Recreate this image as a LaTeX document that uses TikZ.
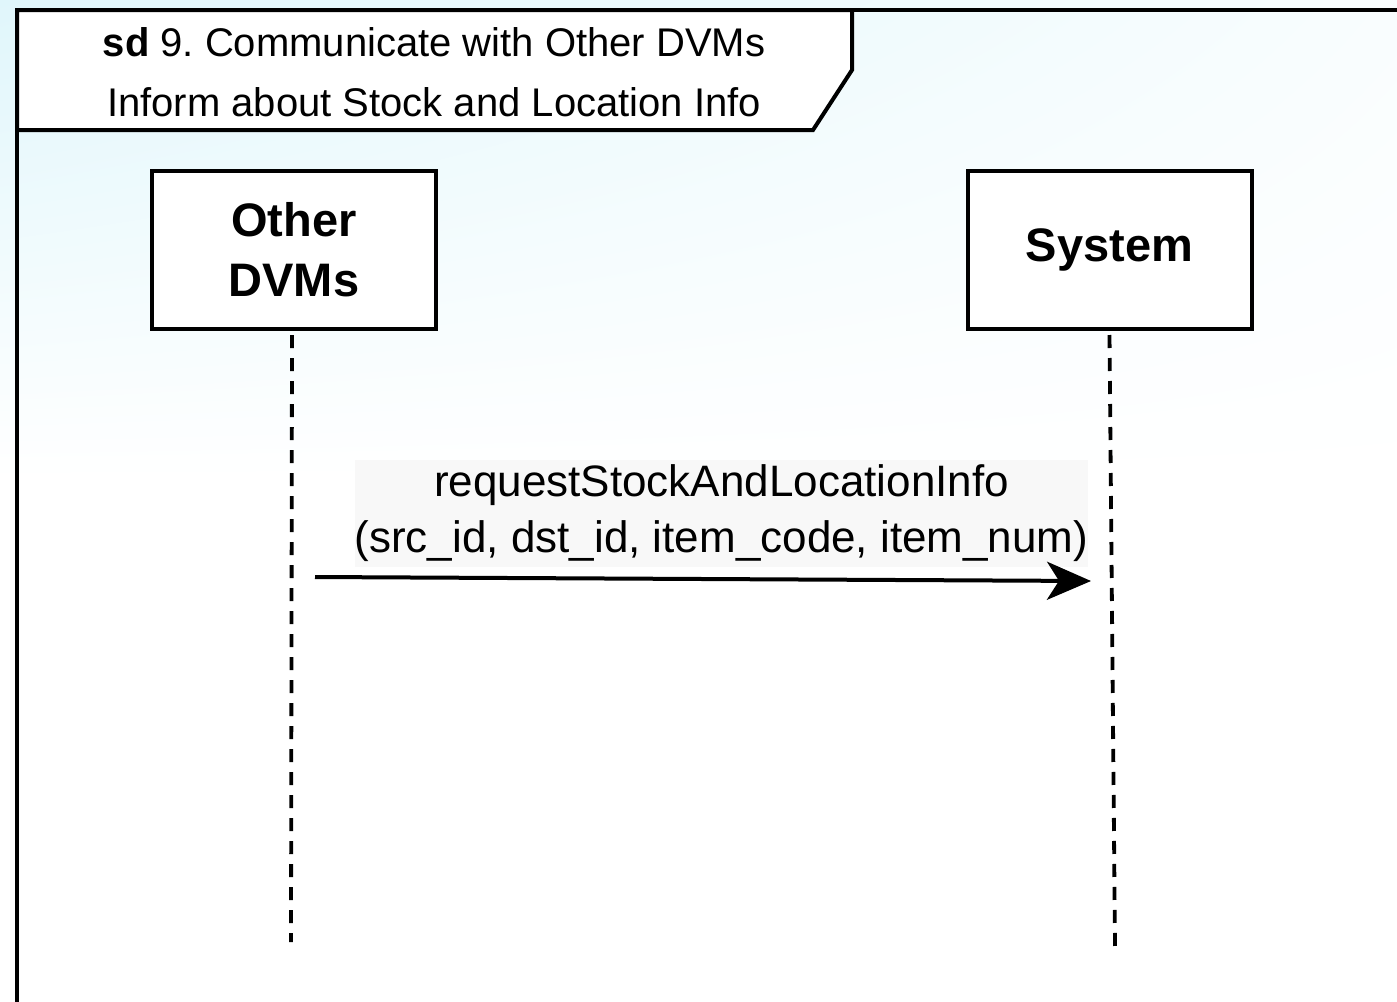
\documentclass[tikz,border=0pt]{standalone}
\usepackage{fontspec}
\setmainfont{Liberation Sans}
\usepackage{tikz}
\usetikzlibrary{arrows.meta,calc,shadings}
\definecolor{fondo}{HTML}{E0F6FB}
\definecolor{etiq}{HTML}{F8F8F8}
\tikzstyle{linea}=[dash pattern=on 6.5pt off 5pt, line width=1.9pt]
\tikzstyle{mensaje}=[-{Stealth[length=22pt,width=19pt,inset=6pt]}, line width=2pt]

\begin{document}
\begin{tikzpicture}[x=0.5pt,y=-0.5pt,
          actor/.style={rectangle,draw=black,fill=white,line width=2pt,minimum width=142pt,minimum height=79pt,
            align=center,font=\fontsize{23.5}{30}\selectfont\bfseries},
          marco/.style={draw=black,line width=2pt}]
        \clip (0,0) rectangle (1397,1001);
        \shade[upper left=fondo, upper right=fondo!20!white, lower left=white, lower right=white] (0,0) rectangle (1397,480);
        \draw [marco] (17,10) rectangle (1430,1040);
        \draw [marco,fill=white] (17,10) -- (852,10) -- (852,70) -- (813,130) -- (17,130) -- cycle;
        \node (titulo) [align=center,font=\fontsize{20}{30}\selectfont] at (434,72)
          {\textbf{sd} 9.\ Communicate with Other DVMs\\Inform about Stock and Location Info};
        \node [actor] (otros) at (294,250) {Other\\DVMs};
        \node [actor] (sistema) at (1109.5,250) {System};
        \coordinate (finOtros) at (291,942);
        \coordinate (finSistema) at (1115,946);
        \draw [linea] ($(otros.south)+(-2,4)$) -- (finOtros);
        \draw [linea] ($(sistema.south)+(0,4)$) -- (finSistema);
        \node (etiqueta) [fill=etiq,inner sep=0pt,minimum width=366.5pt,minimum height=53.5pt,align=center,
          font=\fontsize{22}{28}\selectfont] at (721.5,513.5)
          {requestStockAndLocationInfo\\(src\_id, dst\_id, item\_code, item\_num)};
        \coordinate (m1) at (315,577);
        \coordinate (m2) at (1091,581);
        \draw [mensaje] (m1) -- (m2);
\end{tikzpicture}
\end{document}
